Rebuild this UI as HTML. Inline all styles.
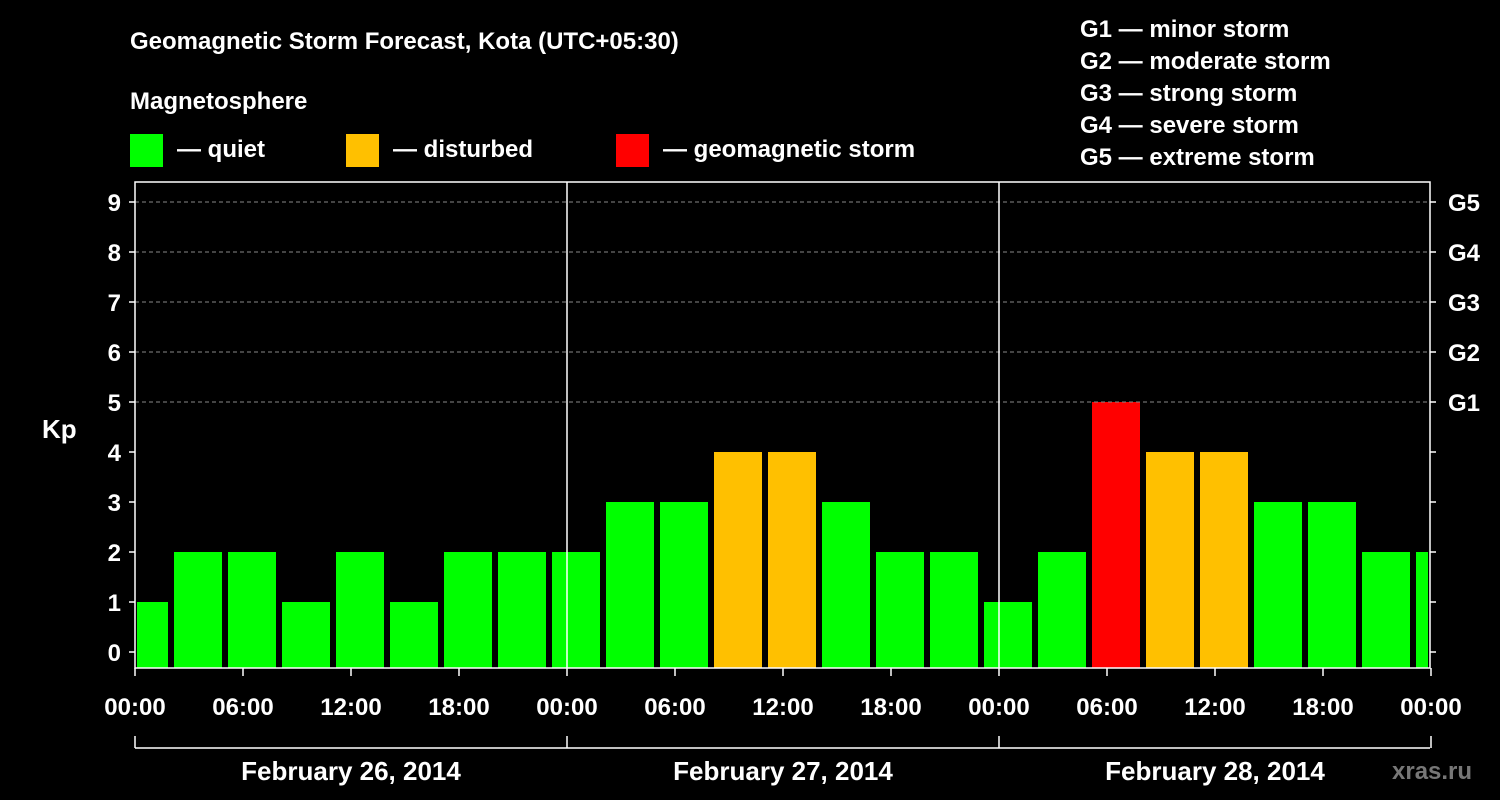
<!DOCTYPE html>
<html><head><meta charset="utf-8"><style>
html,body{margin:0;padding:0;background:#000;}
svg{display:block;font-family:"Liberation Sans",Arial,sans-serif;font-weight:bold;}
</style></head><body>
<svg id="chart" width="1500" height="800" viewBox="0 0 1500 800">
<rect width="1500" height="800" fill="#000"/>
<text x="130" y="49" fill="#fff" font-size="24">Geomagnetic Storm Forecast, Kota (UTC+05:30)</text>
<text x="130" y="109" fill="#fff" font-size="24">Magnetosphere</text>
<g><rect x="130" y="134" width="33" height="33" fill="#00ff00"/><text x="177" y="157" fill="#fff" font-size="24">— quiet</text></g>
<g><rect x="346" y="134" width="33" height="33" fill="#ffc000"/><text x="393" y="157" fill="#fff" font-size="24">— disturbed</text></g>
<g><rect x="616" y="134" width="33" height="33" fill="#ff0000"/><text x="663" y="157" fill="#fff" font-size="24">— geomagnetic storm</text></g>
<g fill="#fff" font-size="24">
<text x="1080" y="37">G1 — minor storm</text>
<text x="1080" y="69">G2 — moderate storm</text>
<text x="1080" y="101">G3 — strong storm</text>
<text x="1080" y="133">G4 — severe storm</text>
<text x="1080" y="165">G5 — extreme storm</text>
</g>
<text x="42" y="438" fill="#fff" font-size="26">Kp</text>
<text x="1392" y="779" fill="#777" font-size="24">xras.ru</text>
<g id="plot"></g>
</svg>
<script>
const kpValues = [1,2,2,1,2,1,2,2,2,3,3,4,4,3,2,2,1,2,5,4,4,3,3,2,2];
const kpTicks = [0,1,2,3,4,5,6,7,8,9];
const gLabels = ["G1","G2","G3","G4","G5"];
const timeLabels = ["00:00","06:00","12:00","18:00","00:00","06:00","12:00","18:00","00:00","06:00","12:00","18:00","00:00"];
const dateLabels = ["February 26, 2014","February 27, 2014","February 28, 2014"];
const firstBarHour = -1; // local hour at which first 3h bin starts (UTC offset)

const NS="http://www.w3.org/2000/svg";
const L=135,R=1430,T=182,B=668;
const y=v=>652-v*50;
const x=h=>L+h*18;
const g=document.getElementById('plot');
function el(t,a,p){const e=document.createElementNS(NS,t);for(const k in a)e.setAttribute(k,a[k]);(p||g).appendChild(e);return e;}
function color(v){return v>=5?"#ff0000":v>=4?"#ffc000":"#00ff00";}
// bars
kpValues.forEach((v,i)=>{
  let x0=x(firstBarHour+i*3)+3, x1=x(firstBarHour+i*3+3)-3;
  x0=Math.max(x0,L+2); x1=Math.min(x1,R-2);
  if(x1<=x0) return;
  const r=el('rect',{x:x0,y:y(v),width:x1-x0,height:B-y(v),fill:color(v)});
  
  
});
// grid dashed lines for G levels
kpTicks.forEach(v=>{
  if(v>=5){const l=el('line',{x1:L,x2:R,y1:y(v),y2:y(v),stroke:"#888","stroke-dasharray":"4,3","stroke-width":1});
  }
  el('line',{x1:L-6,x2:L,y1:y(v),y2:y(v),stroke:"#fff","stroke-width":1.5});
  el('line',{x1:R,x2:R+6,y1:y(v),y2:y(v),stroke:"#fff","stroke-width":1.5});
  const t=el('text',{x:L-14,y:y(v)+9,fill:"#fff","font-size":24,"text-anchor":"end"});t.textContent=v;
  
});
gLabels.forEach((s,i)=>{const t=el('text',{x:R+18,y:y(5+i)+9,fill:"#fff","font-size":24});t.textContent=s;
  });
// day separators
[1,2].forEach(d=>{const l=el('line',{x1:x(d*24),x2:x(d*24),y1:T,y2:B,stroke:"#fff","stroke-width":1.5});
  });
// frame
const f=el('rect',{x:L,y:T,width:R-L,height:B-T,fill:"none",stroke:"#fff","stroke-width":1.5});

// x ticks
timeLabels.forEach((s,i)=>{const xx=x(i*6);
  el('line',{x1:xx,x2:xx,y1:B,y2:B+8,stroke:"#fff","stroke-width":1.5});
  const t=el('text',{x:xx,y:715,fill:"#fff","font-size":24,"text-anchor":"middle"});t.textContent=s;
  });
// date bracket
el('line',{x1:L,x2:R,y1:748,y2:748,stroke:"#fff","stroke-width":1.5});
[0,1,2,3].forEach(d=>el('line',{x1:x(d*24),x2:x(d*24),y1:736,y2:748,stroke:"#fff","stroke-width":1.5}));
dateLabels.forEach((s,i)=>{const t=el('text',{x:x(i*24+12),y:780,fill:"#fff","font-size":26,"text-anchor":"middle"});t.textContent=s;
  });
</script>
</body></html>
